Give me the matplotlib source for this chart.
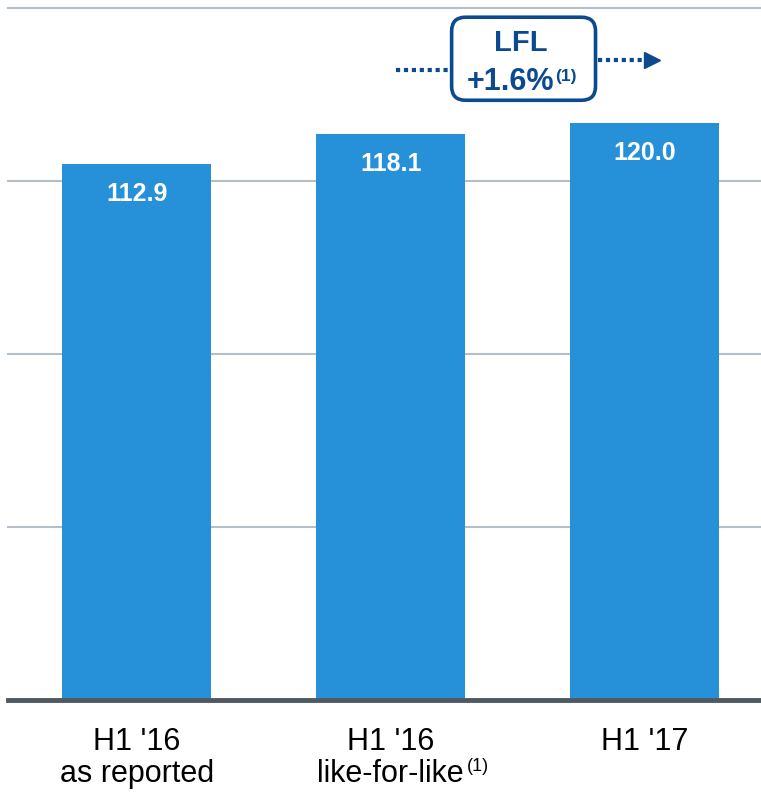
import matplotlib
matplotlib.use('Agg')
import matplotlib.pyplot as plt
from matplotlib.patches import FancyBboxPatch

# data
categories = ["H1 '16\nas reported", "H1 '16\nlike-for-like", "H1 '17"]
values = [112.9, 118.1, 120.0]
grid_ticks = [50, 80, 110, 140]
lfl_label = "+1.6%"

bar_color = '#2690d8'
dark_blue = '#0c4a90'
grid_color = '#b6bec8'
axis_color = '#4f5964'

plt.rcParams['font.family'] = ['Liberation Sans', 'DejaVu Sans']

fig = plt.figure(figsize=(7.61, 7.92), dpi=100)
ax = fig.add_axes([8 / 761, 1 - 700 / 792, 753 / 761, 692 / 792])

x = list(range(len(values)))
ax.bar(x, [v - 20 for v in values], bottom=20, width=0.587, color=bar_color, zorder=3)
ax.set_xlim(-0.508, 2.459)
ax.set_ylim(20, 140)

for g in grid_ticks:
    ax.axhline(g, color=grid_color, lw=1.5, zorder=1, clip_on=False)
ax.axhline(20, color=axis_color, lw=3.5, zorder=4, clip_on=False)

for s in ax.spines.values():
    s.set_visible(False)
ax.set_xticks([])
ax.set_yticks([])

# value labels inside the bars
for xi, v in zip(x, values):
    ax.text(xi, v - 6.4, f'{v:.1f}', ha='center', va='baseline', color='white',
            fontsize=18, fontweight='bold', zorder=5)

# category labels
for xi, c in zip(x, categories):
    lines = c.split('\n')
    ax.text(xi, 11.33, lines[0], ha='center', va='baseline', fontsize=22,
            clip_on=False)
    if len(lines) > 1:
        ax.text(xi, 5.79, lines[1], ha='center', va='baseline', fontsize=22,
                clip_on=False)
ax.text(1.30, 7.7, '(1)', ha='left', va='baseline', fontsize=13, clip_on=False)

# LFL box
box = FancyBboxPatch((1.240, 124.0), 1.807 - 1.240, 138.4 - 124.0,
                     boxstyle='round,pad=0,rounding_size=0.055', mutation_aspect=44,
                     fc='white', ec=dark_blue, lw=2.6, zorder=6)
ax.add_patch(box)
ax.text(1.512, 132.5, 'LFL', ha='center', va='baseline', fontsize=21,
        fontweight='bold', color=dark_blue, zorder=7)
ax.text(1.645, 125.7, lfl_label, ha='right', va='baseline', fontsize=22,
        fontweight='bold', color=dark_blue, zorder=7)
ax.text(1.649, 127.4, '(1)', ha='left', va='baseline', fontsize=12.5,
        fontweight='bold', color=dark_blue, zorder=7)

# dotted arrow through the box
ax.plot([1.019, 1.232], [129.3, 129.3], color=dark_blue, lw=3,
        ls=(0, (1, 0.9)), dash_capstyle='butt', zorder=5)
ax.plot([1.815, 2.0], [130.9, 130.9], color=dark_blue, lw=3,
        ls=(0, (1, 0.9)), dash_capstyle='butt', zorder=5)
ax.plot([2.03], [130.9], marker='>', ms=11, color=dark_blue, mec=dark_blue, zorder=5)

fig.savefig('out.png', dpi=100)
